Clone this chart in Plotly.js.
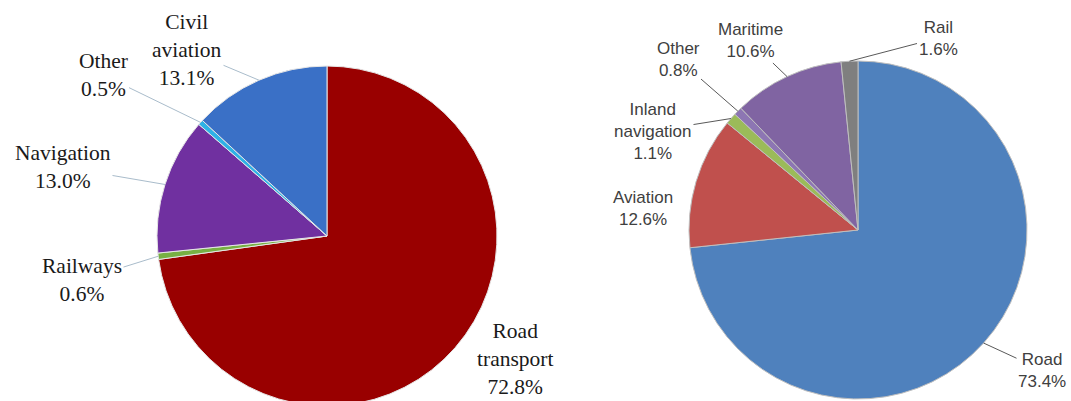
<!DOCTYPE html>
<html>
<head>
<meta charset="utf-8">
<script src="https://cdn.plot.ly/plotly-3.0.1.min.js"></script>
<style>
  html, body { margin: 0; padding: 0; background: #ffffff; overflow: hidden; }
  #chart { width: 1071px; height: 412px; }
</style>
</head>
<body>
<div id="chart"></div>
<script>
// ---- Data ----
const leftCategories = ['Road transport', 'Railways', 'Navigation', 'Other', 'Civil aviation'];
const leftLabelText  = ['Road<br>transport', 'Railways', 'Navigation', 'Other', 'Civil<br>aviation'];
const leftValues     = [72.8, 0.6, 13.0, 0.5, 13.1];

const rightCategories = ['Road', 'Aviation', 'Inland navigation', 'Other', 'Maritime', 'Rail'];
const rightLabelText  = ['Road', 'Aviation', 'Inland<br>navigation', 'Other', 'Maritime', 'Rail'];
const rightValues     = [73.4, 12.6, 1.1, 0.8, 10.6, 1.6];

// ---- Styles / layout ----
const W = 1071, H = 412;
const leftColors  = ['#990000', '#77b043', '#7030a0', '#2fb2e6', '#3a70c6'];
const rightColors = ['#4f81bd', '#c0504d', '#9bbb59', '#8d76b3', '#8064a2', '#7f7f7f'];

const leftPie  = { cx: 327, cy: 236, r: 170 };
const rightPie = { cx: 858, cy: 230, r: 169 };

// label block centres (px) and whether a leader line is drawn
const leftLabelPos  = [[515, 359, false], [82, 280, true], [63, 167, true], [103, 75, true], [187, 50, true]];
const rightLabelPos = [[1042, 370, true], [643, 208, false], [653, 131, true], [678, 59, true], [750, 41, true], [938, 38, true]];

function domainOf(p) {
  return {
    x: [(p.cx - p.r) / W, (p.cx + p.r) / W],
    y: [1 - (p.cy + p.r) / H, 1 - (p.cy - p.r) / H]
  };
}

function pieTrace(labels, values, colors, p, lineColor) {
  return {
    type: 'pie',
    labels: labels,
    values: values,
    sort: false,
    direction: 'clockwise',
    rotation: 0,
    textinfo: 'none',
    marker: { colors: colors, line: { color: lineColor, width: 1 } },
    domain: domainOf(p),
    showlegend: false,
    hoverinfo: 'label+percent'
  };
}

function makeAnnotations(values, texts, p, pos, font, lineColor) {
  const total = values.reduce((a, b) => a + b, 0);
  let cum = 0;
  const anns = [];
  values.forEach((v, i) => {
    const mid = (cum + v / 2) / total;
    cum += v;
    const th = 2 * Math.PI * mid;
    const ax = p.cx + p.r * Math.sin(th);
    const ay = p.cy - p.r * Math.cos(th);
    const [lx, ly, line] = pos[i];
    anns.push({
      xref: 'paper', yref: 'paper',
      x: ax / W, y: 1 - ay / H,
      ax: lx - ax, ay: ly - ay,
      text: texts[i] + '<br>' + v.toFixed(1) + '%',
      showarrow: true,
      arrowhead: 0,
      arrowwidth: 1,
      standoff: 0,
      arrowcolor: line ? lineColor : 'rgba(0,0,0,0)',
      align: 'center',
      font: font
    });
  });
  return anns;
}

const leftFont  = { family: '"Liberation Serif", "Times New Roman", serif', size: 21.5, color: '#1a1a1a' };
const rightFont = { family: '"Liberation Sans", Arial, sans-serif', size: 17, color: '#404040' };

const annotations = []
  .concat(makeAnnotations(leftValues, leftLabelText, leftPie, leftLabelPos, leftFont, '#a9bccb'))
  .concat(makeAnnotations(rightValues, rightLabelText, rightPie, rightLabelPos, rightFont, '#595959'));

const data = [
  pieTrace(leftCategories, leftValues, leftColors, leftPie, '#e6e6e6'),
  pieTrace(rightCategories, rightValues, rightColors, rightPie, '#bfbfbf')
];

const layout = {
  width: W, height: H,
  margin: { l: 0, r: 0, t: 0, b: 0 },
  paper_bgcolor: '#ffffff',
  plot_bgcolor: '#ffffff',
  showlegend: false,
  annotations: annotations
};

Plotly.newPlot('chart', data, layout, { displayModeBar: false, staticPlot: true });
</script>
</body>
</html>
